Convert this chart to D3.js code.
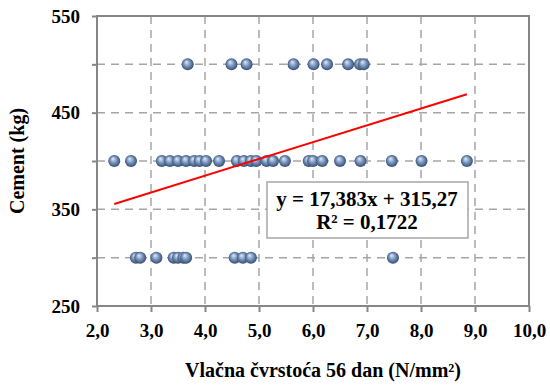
<!DOCTYPE html>
<html><head><meta charset="utf-8">
<script src="https://cdn.jsdelivr.net/npm/d3@7"></script>
<style>body{margin:0;background:#fff}svg{display:block}text{font-family:"Liberation Serif",serif;font-weight:bold}</style>
</head><body>
<script>
const xTicks = [2,3,4,5,6,7,8,9,10];
const yTicks = [250,300,350,400,450,500,550];
const yLabels = [250,350,450,550];
const x500 = [3.68,4.49,4.77,5.64,6.01,6.26,6.65,6.87,6.94];
const x400 = [2.32,2.63,3.2,3.35,3.5,3.65,3.8,3.9,4.02,4.26,4.59,4.72,4.85,4.95,5.14,5.26,5.48,5.92,6.0,6.17,6.5,6.88,7.46,8.01,8.85];
const x300 = [2.72,2.8,3.1,3.42,3.5,3.6,3.65,4.55,4.7,4.85,7.48];
const slope = 17.383, intercept = 315.27;
const eqText = "y = 17,383x + 315,27";
const r2Text = "R² = 0,1722";
const xTitle = "Vlačna čvrstoća 56 dan (N/mm²)";
const yTitle = "Cement (kg)";

const W=550,H=392, L=97,R=529,T=16,B=306;
const svg=d3.select("body").append("svg").attr("width",W).attr("height",H);
const x=d3.scaleLinear().domain([2,10]).range([L,R]);
const y=d3.scaleLinear().domain([250,550]).range([B,T]);
const fmt=d=>d.toFixed(1).replace(".",",");

const defs=svg.append("defs");
const g=defs.append("radialGradient").attr("id","sph").attr("cx","0.5").attr("cy","0.5").attr("r","0.55").attr("fx","0.38").attr("fy","0.3");
g.append("stop").attr("offset","0").attr("stop-color","#e4ecf7");
g.append("stop").attr("offset","0.45").attr("stop-color","#7f9cc4");
g.append("stop").attr("offset","1").attr("stop-color","#2c4266");

// grid
const grid=svg.append("g").attr("stroke","#a6a6a6").attr("stroke-width",1.5).attr("stroke-dasharray","8,6");
grid.selectAll("line.v").data(xTicks.filter(d=>d>2&&d<10)).join("line").attr("class","v")
 .attr("x1",d=>x(d)).attr("x2",d=>x(d)).attr("y1",T).attr("y2",B);
grid.selectAll("line.h").data(yTicks.filter(d=>d>250&&d<550)).join("line").attr("class","h")
 .attr("x1",L).attr("x2",R).attr("y1",d=>y(d)).attr("y2",d=>y(d));

// axes
const ax=svg.append("g").attr("transform",`translate(0,${B})`).call(d3.axisBottom(x).tickValues(xTicks).tickFormat(fmt).tickSize(6).tickPadding(8));
const ay=svg.append("g").attr("transform",`translate(${L},0)`).call(d3.axisLeft(y).tickValues(yTicks).tickFormat(d=>yLabels.includes(d)?d:"").tickSize(5).tickPadding(12));
[ax,ay].forEach(a=>{a.attr("font-family",null).attr("font-size",null);a.select(".domain").remove();a.selectAll("line").attr("stroke","#868686").attr("stroke-width",2);
 a.selectAll("text").style("font-family","'Liberation Serif',serif").style("font-weight","bold").style("font-size","19px").attr("fill","#000");});
ax.selectAll("text").attr("dy","0.9em");
svg.append("rect").attr("x",L).attr("y",T).attr("width",R-L).attr("height",B-T).attr("fill","none").attr("stroke","#868686").attr("stroke-width",2);

// points
const pts=[].concat(x500.map(v=>[v,500]),x400.map(v=>[v,400]),x300.map(v=>[v,300]));
svg.append("g").selectAll("circle").data(pts).join("circle")
 .attr("cx",d=>x(d[0])).attr("cy",d=>y(d[1])).attr("r",6).attr("fill","url(#sph)");

// trendline
const allX=pts.map(d=>d[0]);
const x0=d3.min(allX),x1=d3.max(allX);
svg.append("line").attr("x1",x(x0)).attr("y1",y(slope*x0+intercept)).attr("x2",x(x1)).attr("y2",y(slope*x1+intercept))
 .attr("stroke","#ff0000").attr("stroke-width",2);

// equation box
svg.append("rect").attr("x",267).attr("y",182).attr("width",201).attr("height",56).attr("fill","#fff").attr("stroke","#a6a6a6").attr("stroke-width",1.5);
const eq=svg.append("g").attr("font-size",21).attr("text-anchor","middle");
eq.append("text").attr("x",367).attr("y",206).text(eqText);
eq.append("text").attr("x",367).attr("y",229).text(r2Text);

// titles
svg.append("text").attr("x",323).attr("y",377).attr("text-anchor","middle").attr("font-size",20).text(xTitle);
svg.append("text").attr("transform",`translate(24,${(T+B)/2}) rotate(-90)`).attr("text-anchor","middle").attr("font-size",20).text(yTitle);
</script>
</body></html>
